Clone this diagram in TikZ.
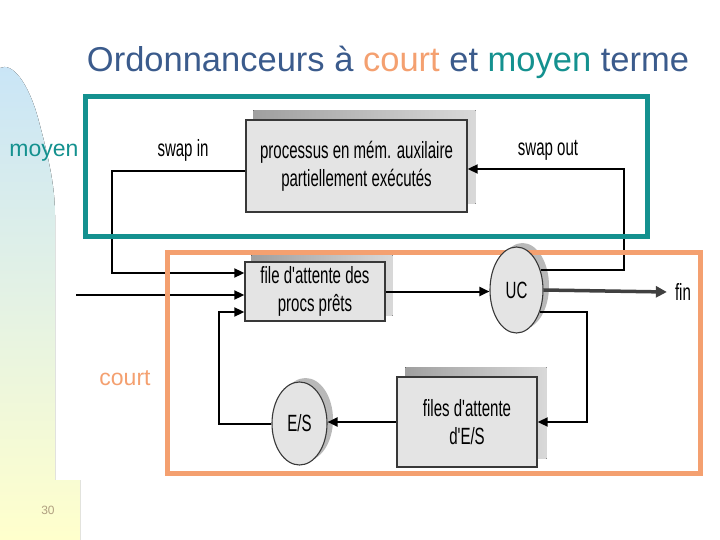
\documentclass[tikz,border=0pt]{standalone}
\usepackage{fontspec}
\setmainfont{Liberation Sans}
\newfontfamily\narrowf[FakeStretch=0.64]{Liberation Sans}
\usetikzlibrary{arrows.meta,shapes.geometric,calc,backgrounds}
\definecolor{teal1}{HTML}{14918F}
\definecolor{orange1}{HTML}{F4A070}
\definecolor{titleblue}{HTML}{3B5B8C}
\definecolor{boxfill}{HTML}{E4E4E4}
\definecolor{boxline}{HTML}{383838}
\definecolor{bgblue}{HTML}{C9E5F7}
\definecolor{bggreen}{HTML}{E4F2E4}
\definecolor{bgyellow}{HTML}{FFFFCC}
\definecolor{numcol}{HTML}{B0A080}
\definecolor{fingray}{HTML}{404040}
\tikzset{
  diagfont/.style={font=\narrowf\fontsize{23.5}{28}\selectfont},
  procbox/.style={diagfont, draw=boxline, line width=1.4pt, fill=boxfill, align=center, inner sep=0pt},
  procell/.style={diagfont, ellipse, draw=boxline, line width=1.1pt, fill=boxfill, inner sep=0pt},
  conn/.style={line width=2pt, -{Triangle[length=10pt,width=9pt]}},
  finconn/.style={line width=3.5pt, draw=fingray, -{Triangle[length=11pt,width=11pt]}},
  lbl/.style={diagfont, inner sep=0pt},
  shd/.style={left color=gray!75, right color=gray!30},
  frameteal/.style={draw=teal1, line width=5pt},
  frameorange/.style={draw=orange1, line width=5pt},
}
\begin{document}
\begin{tikzpicture}[x=1pt,y=-1pt]
\useasboundingbox (0,0) rectangle (720,540);

% title and side labels
\node[font=\fontsize{34.5}{40}\selectfont, text=titleblue, inner sep=0pt] (title) at (388,62)
  {Ordonnanceurs à \textcolor{orange1}{court} et \textcolor{teal1}{moyen} terme};
\node[font=\fontsize{23}{28}\selectfont, text=teal1, inner sep=0pt] (moyen) at (44,153) {moyen};
\node[font=\fontsize{23}{28}\selectfont, text=orange1, inner sep=0pt] (court) at (125,378) {court};
\node[font=\fontsize{12}{14}\selectfont, text=numcol, inner sep=0pt] (num) at (48,510) {30};

% diagram nodes
\node[procbox, minimum width=221pt, minimum height=92pt] (proc) at (356.5,166)
  {processus en mém. auxilaire\\partiellement exécutés};
\node[procbox, minimum width=140pt, minimum height=59pt] (file) at (315,291.5)
  {file d'attente des\\procs prêts};
\node[procell, minimum width=53pt, minimum height=86pt] (uc) at (516.5,290) {UC};
\node[procell, minimum width=55pt, minimum height=83pt] (es) at (299.5,423.5) {E/S};
\node[procbox, minimum width=140pt, minimum height=90pt] (fes) at (467,422)
  {files d'attente\\d'E/S};

\node[lbl] (swin) at (183,150) {swap in};
\node[lbl] (swout) at (548,150) {swap out};
\node[lbl] (fin) at (683,292) {fin};

\begin{scope}[on background layer]
  % left decorative band
  \fill[top color=bgblue, bottom color=bgyellow, middle color=bggreen]
    (0,540) -- (0,68) .. controls (12,62) and (28,82) .. (38,118)
    .. controls (48,155) and (55,185) .. (55,215) -- (55,480) -- (80,480) -- (80,540) -- cycle;

  % shadows
  \fill[shd] ($(proc.south west)+(8,-9)$) rectangle ($(proc.north east)+(8,-9)$);
  \fill[shd] ($(file.south west)+(7,-6)$) rectangle ($(file.north east)+(7,-6)$);
  \fill[shd] ($(fes.south west)+(9,-9)$) rectangle ($(fes.north east)+(9,-9)$);
  \fill[gray!55] ($(uc.center)+(6,-4)$) ellipse [x radius=26.5pt, y radius=43pt];
  \fill[gray!55] ($(es.center)+(6,-4)$) ellipse [x radius=27.5pt, y radius=41.5pt];

  % connectors
  \coordinate (swl) at (112,273);
  \draw[conn] ([yshift=-5pt]proc.west) -| (swl) -- (swl -| file.west);
  \coordinate (inp) at (76,295);
  \draw[conn] (inp) -- (inp -| file.west);
  \coordinate (lp) at (219,312);
  \draw[conn] (es.west) -| (lp) -- (lp -| file.west);
  \draw[conn] (file.east) -- (file.east -| uc.west);
  \draw[finconn] (uc.east) -- ([xshift=-8pt]fin.west);
  \coordinate (so) at (624,169);
  \draw[conn] (uc.39) -| (so) -- (so -| proc.east);
  \coordinate (rt) at (587,422);
  \draw[conn] (uc.-44) -| (rt) -- (rt -| fes.east);
  \draw[conn] (fes.west) -- (fes.west -| es.east);

  % frames
  \draw[frameteal] (85,97) rectangle (647,236);
  \draw[frameorange] (167,252) rectangle (700,473);
\end{scope}
\end{tikzpicture}
\end{document}
